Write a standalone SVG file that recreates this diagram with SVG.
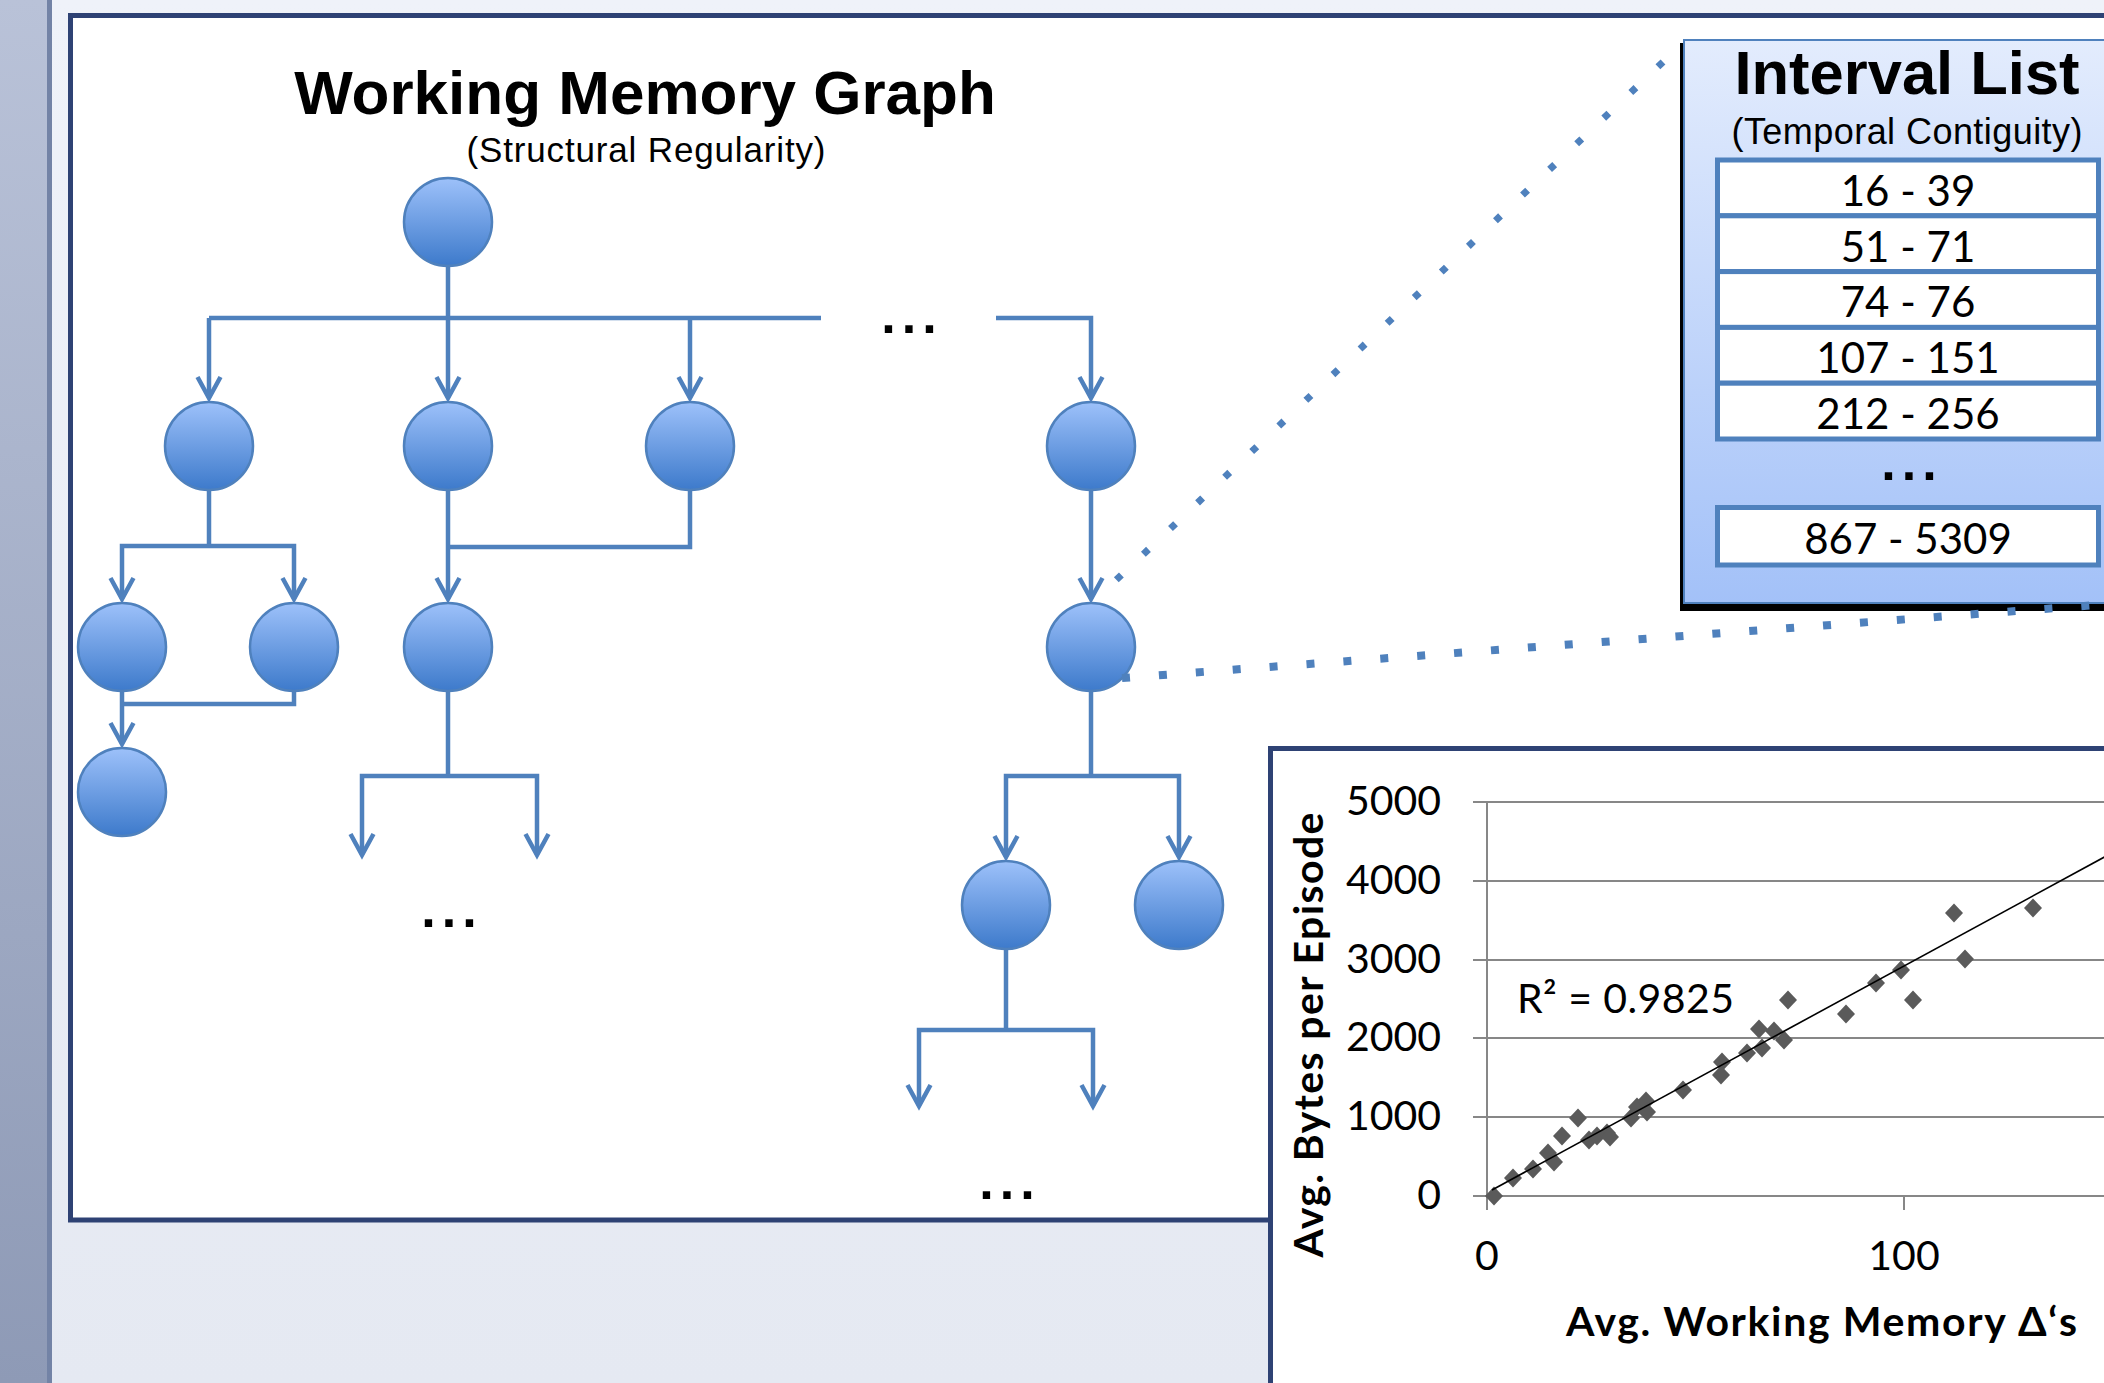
<svg xmlns="http://www.w3.org/2000/svg" xmlns:xlink="http://www.w3.org/1999/xlink" width="2104" height="1383" viewBox="0 0 2104 1383">
  <defs>
    <linearGradient id="bgGrad" x1="0" y1="0" x2="0" y2="1">
      <stop offset="0" stop-color="#eff2f9"/>
      <stop offset="1" stop-color="#e5e9f2"/>
    </linearGradient>
    <linearGradient id="stripGrad" x1="0" y1="0" x2="0" y2="1">
      <stop offset="0" stop-color="#b9c2d8"/>
      <stop offset="1" stop-color="#8e9ab6"/>
    </linearGradient>
    <linearGradient id="nodeGrad" x1="0" y1="0" x2="0" y2="1">
      <stop offset="0" stop-color="#9dc1fa"/>
      <stop offset="1" stop-color="#3d7acb"/>
    </linearGradient>
    <linearGradient id="listGrad" x1="0" y1="0" x2="0" y2="1">
      <stop offset="0" stop-color="#e3ecfd"/>
      <stop offset="1" stop-color="#a3c1f8"/>
    </linearGradient>
    <marker id="vee" markerUnits="userSpaceOnUse" orient="auto" refX="0" refY="0" markerWidth="40" markerHeight="40" viewBox="-30 -20 40 40" overflow="visible">
      <path d="M-21,-11.5 L0,0 L-21,11.5" fill="none" stroke="#4f81bd" stroke-width="4.5"/>
    </marker>
    <path id="pt" d="M0,-9.5 L9,0 L0,9.5 L-9,0 Z" fill="#5a5a5a"/>
    <style>
      .node { fill: url(#nodeGrad); stroke: #4f81bd; stroke-width: 2.5; }
      .edge { fill: none; stroke: #4f81bd; stroke-width: 4.5; }
      .arr { marker-end: url(#vee); }
      .ell { font-family: "Liberation Sans", Arial, sans-serif; font-weight: bold; font-size: 52px; letter-spacing: 6px; fill: #000; text-anchor: middle; }
      .h1 { font-family: "Liberation Sans", Arial, sans-serif; font-weight: bold; fill: #000; text-anchor: middle; }
      .h2 { font-family: "Liberation Sans", Arial, sans-serif; fill: #000; text-anchor: middle; }
      .row { fill: #fff; stroke: #4f81bd; stroke-width: 5; }
      .num { font-family: Lato, "Open Sans", sans-serif; font-size: 42px; fill: #000; text-anchor: middle; }
      .grid { stroke: #878787; stroke-width: 2; fill: none; }
      .tick { font-family: Lato, "Open Sans", sans-serif; font-size: 41px; fill: #000; }
      .atitle { font-family: Lato, "Open Sans", sans-serif; font-weight: bold; font-size: 41px; fill: #000; }
      .dots { fill: none; stroke: #4f81bd; }
    </style>
  </defs>

  <!-- page background and side strip -->
  <rect x="0" y="0" width="2104" height="1383" fill="url(#bgGrad)"/>
  <rect x="0" y="0" width="47" height="1383" fill="url(#stripGrad)"/>
  <rect x="47" y="0" width="5" height="1383" fill="#7383a6"/>

  <!-- graph panel -->
  <rect x="70.5" y="15.5" width="2100" height="1204.5" fill="#fff" stroke="#2e4274" stroke-width="5"/>

  <text class="h1" x="645" y="114" font-size="62">Working Memory Graph</text>
  <text class="h2" x="646" y="162" font-size="35" textLength="359">(Structural Regularity)</text>

  <!-- tree edges -->
  <g id="connectors">
    <path class="edge arr" d="M448,267 V398"/>
    <path class="edge" d="M209,318 H821"/>
    <path class="edge arr" d="M209,318 V398"/>
    <path class="edge arr" d="M690,318 V398"/>
    <path class="edge arr" d="M996,318 H1091 V398"/>
    <path class="edge" d="M209,490 V546"/>
    <path class="edge arr" d="M209,546 H122 V599"/>
    <path class="edge arr" d="M209,546 H294 V599"/>
    <path class="edge arr" d="M448,490 V599"/>
    <path class="edge" d="M690,490 V547 H448"/>
    <path class="edge arr" d="M122,691 V744"/>
    <path class="edge" d="M294,691 V704 H122"/>
    <path class="edge" d="M448,691 V776"/>
    <path class="edge arr" d="M448,776 H362 V855"/>
    <path class="edge arr" d="M448,776 H537 V855"/>
    <path class="edge arr" d="M1091,490 V599"/>
    <path class="edge" d="M1091,691 V776"/>
    <path class="edge arr" d="M1091,776 H1006 V857"/>
    <path class="edge arr" d="M1091,776 H1179 V857"/>
    <path class="edge" d="M1006,949 V1030"/>
    <path class="edge arr" d="M1006,1030 H919 V1106"/>
    <path class="edge arr" d="M1006,1030 H1093 V1106"/>
  </g>

  <!-- tree nodes -->
  <g id="node-root"><circle class="node" cx="448" cy="222" r="44"/></g>
  <g id="node-a1"><circle class="node" cx="209" cy="446" r="44"/></g>
  <g id="node-a2"><circle class="node" cx="448" cy="446" r="44"/></g>
  <g id="node-a3"><circle class="node" cx="690" cy="446" r="44"/></g>
  <g id="node-a4"><circle class="node" cx="1091" cy="446" r="44"/></g>
  <g id="node-b1"><circle class="node" cx="122" cy="647" r="44"/></g>
  <g id="node-b2"><circle class="node" cx="294" cy="647" r="44"/></g>
  <g id="node-b3"><circle class="node" cx="448" cy="647" r="44"/></g>
  <g id="node-b4"><circle class="node" cx="1091" cy="647" r="44"/></g>
  <g id="node-c1"><circle class="node" cx="122" cy="792" r="44"/></g>
  <g id="node-c2"><circle class="node" cx="1006" cy="905" r="44"/></g>
  <g id="node-c3"><circle class="node" cx="1179" cy="905" r="44"/></g>

  <!-- elided branches -->
  <text class="ell" x="912" y="333">...</text>
  <text class="ell" x="452" y="927">...</text>
  <text class="ell" x="1010" y="1199">...</text>

  <!-- interval list -->
  <g id="interval-list">
    <rect x="1680" y="43" width="500" height="568" fill="#000"/>
    <rect x="1684" y="40" width="480" height="563" fill="url(#listGrad)" stroke="#4f81bd" stroke-width="2"/>
    <text class="h1" x="1907" y="94" font-size="61.5">Interval List</text>
    <text class="h2" x="1907" y="144" font-size="36" textLength="351">(Temporal Contiguity)</text>
    <rect class="row" x="1717.5" y="160" width="381" height="55.8"/>
    <rect class="row" x="1717.5" y="215.8" width="381" height="55.8"/>
    <rect class="row" x="1717.5" y="271.6" width="381" height="55.8"/>
    <rect class="row" x="1717.5" y="327.4" width="381" height="55.8"/>
    <rect class="row" x="1717.5" y="383.2" width="381" height="55.8"/>
    <text class="num" x="1908" y="206">16 - 39</text>
    <text class="num" x="1908" y="262">51 - 71</text>
    <text class="num" x="1908" y="317">74 - 76</text>
    <text class="num" x="1908" y="373">107 - 151</text>
    <text class="num" x="1908" y="429">212 - 256</text>
    <text class="ell" x="1912" y="480" font-size="42" letter-spacing="10">...</text>
    <rect class="row" x="1717.5" y="507.5" width="381" height="57.5"/>
    <text class="num" x="1908" y="554">867 - 5309</text>
  </g>

  <!-- zoom-out leaders -->
  <g id="leaders">
    <path class="dots" d="M1663,62 L1095,600" stroke-width="7" stroke-dasharray="7 30.3"/>
    <path class="dots" d="M1122,678 L2110,604" stroke-width="8" stroke-dasharray="8 29"/>
  </g>

  <!-- scatter chart -->
  <g id="chart">
    <rect x="1270.5" y="748.5" width="900" height="700" fill="#fff" stroke="#2e4274" stroke-width="5"/>
    <path class="grid" d="M1473,802 H2110 M1473,881 H2110 M1473,960 H2110 M1473,1038 H2110 M1473,1117 H2110 M1473,1196 H2110"/>
    <path class="grid" d="M1487,802 V1210 M1904,1196 V1210"/>
    <g class="tick" text-anchor="end">
      <text x="1441" y="815">5000</text>
      <text x="1441" y="894">4000</text>
      <text x="1441" y="973">3000</text>
      <text x="1441" y="1051">2000</text>
      <text x="1441" y="1130">1000</text>
      <text x="1441" y="1209">0</text>
    </g>
    <g class="tick" text-anchor="middle">
      <text x="1487" y="1270">0</text>
      <text x="1904" y="1270">100</text>
    </g>
    <text class="atitle" x="1566" y="1336" textLength="511">Avg. Working Memory Δ‘s</text>
    <text class="atitle" transform="translate(1323,1035) rotate(-90)" text-anchor="middle" font-size="45" textLength="445">Avg. Bytes per Episode</text>
    <text class="tick" x="1517" y="1013" font-size="39" textLength="217">R² = 0.9825</text>
    <g id="points">
      <use xlink:href="#pt" x="1494" y="1196"/>
      <use xlink:href="#pt" x="1513" y="1178"/>
      <use xlink:href="#pt" x="1533" y="1169"/>
      <use xlink:href="#pt" x="1548" y="1153"/>
      <use xlink:href="#pt" x="1554" y="1162"/>
      <use xlink:href="#pt" x="1562" y="1136"/>
      <use xlink:href="#pt" x="1578" y="1118"/>
      <use xlink:href="#pt" x="1589" y="1140"/>
      <use xlink:href="#pt" x="1597" y="1136"/>
      <use xlink:href="#pt" x="1607" y="1133"/>
      <use xlink:href="#pt" x="1610" y="1137"/>
      <use xlink:href="#pt" x="1631" y="1118"/>
      <use xlink:href="#pt" x="1637" y="1107"/>
      <use xlink:href="#pt" x="1646" y="1101"/>
      <use xlink:href="#pt" x="1647" y="1112"/>
      <use xlink:href="#pt" x="1683" y="1090"/>
      <use xlink:href="#pt" x="1722" y="1062"/>
      <use xlink:href="#pt" x="1721" y="1075"/>
      <use xlink:href="#pt" x="1747" y="1053"/>
      <use xlink:href="#pt" x="1762" y="1048"/>
      <use xlink:href="#pt" x="1759" y="1029"/>
      <use xlink:href="#pt" x="1774" y="1031"/>
      <use xlink:href="#pt" x="1784" y="1040"/>
      <use xlink:href="#pt" x="1788" y="1000"/>
      <use xlink:href="#pt" x="1846" y="1014"/>
      <use xlink:href="#pt" x="1876" y="983"/>
      <use xlink:href="#pt" x="1901" y="970"/>
      <use xlink:href="#pt" x="1913" y="1000"/>
      <use xlink:href="#pt" x="1954" y="913"/>
      <use xlink:href="#pt" x="1965" y="959"/>
      <use xlink:href="#pt" x="2033" y="908"/>
    </g>
    <path d="M1492,1190 L2110,854" stroke="#000" stroke-width="1.6" fill="none"/>
  </g>
</svg>
